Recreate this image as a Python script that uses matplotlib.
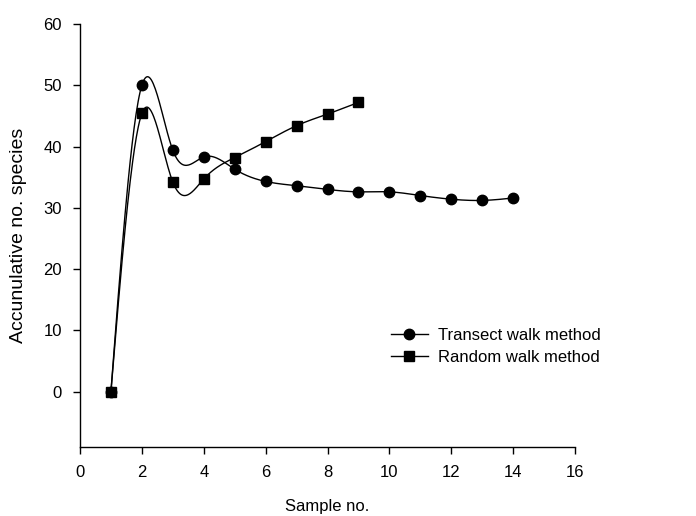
import numpy as np
import matplotlib
matplotlib.use("Agg")
import matplotlib.pyplot as plt

plt.rcParams['font.family'] = ['Liberation Sans', 'DejaVu Sans']

transect_x = [1, 2, 3, 4, 5, 6, 7, 8, 9, 10, 11, 12, 13, 14]
transect_y = [0, 50.0, 39.4, 38.3, 36.3, 34.3, 33.6, 33.0, 32.6, 32.6, 32.0, 31.4, 31.2, 31.6]
random_x = [1, 2, 3, 4, 5, 6, 7, 8, 9]
random_y = [0, 45.4, 34.2, 34.7, 38.2, 40.8, 43.4, 45.3, 47.2]

x_ticks = [0, 2, 4, 6, 8, 10, 12, 14, 16]
y_ticks = [0, 10, 20, 30, 40, 50, 60]


def natural_spline(x, y, n=400):
    x = np.asarray(x, float)
    y = np.asarray(y, float)
    m = len(x)
    h = np.diff(x)
    A = np.zeros((m, m))
    b = np.zeros(m)
    A[0, 0] = 1
    A[-1, -1] = 1
    for i in range(1, m - 1):
        A[i, i - 1] = h[i - 1]
        A[i, i] = 2 * (h[i - 1] + h[i])
        A[i, i + 1] = h[i]
        b[i] = 6 * ((y[i + 1] - y[i]) / h[i] - (y[i] - y[i - 1]) / h[i - 1])
    M = np.linalg.solve(A, b)
    xs = np.linspace(x[0], x[-1], n)
    idx = np.clip(np.searchsorted(x, xs) - 1, 0, m - 2)
    x0, x1 = x[idx], x[idx + 1]
    hh = x1 - x0
    t0 = x1 - xs
    t1 = xs - x0
    ys = (M[idx] * t0 ** 3 / (6 * hh) + M[idx + 1] * t1 ** 3 / (6 * hh)
          + (y[idx] / hh - M[idx] * hh / 6) * t0
          + (y[idx + 1] / hh - M[idx + 1] * hh / 6) * t1)
    return xs, ys


fig = plt.figure(figsize=(6.96, 5.16), dpi=100)
ax = fig.add_axes([80 / 696, 1 - 446.7 / 516, 495 / 696, (446.7 - 24) / 516])

tx, ty = natural_spline(transect_x, transect_y)
rx, ry = natural_spline(random_x, random_y)
ax.plot(tx, ty, color='black', lw=1.0)
ax.plot(rx, ry, color='black', lw=1.0)
ax.plot(transect_x, transect_y, 'o', color='black', ms=7.5, zorder=3)
ax.plot(random_x, random_y, 's', color='black', ms=6.8, zorder=3)

# legend proxies
h1, = ax.plot([], [], '-o', color='black', lw=1.0, ms=7.5)
h2, = ax.plot([], [], '-s', color='black', lw=1.0, ms=6.8)
ax.legend([h1, h2], ['Transect walk method', 'Random walk method'],
          loc='upper left', bbox_to_anchor=(0.628, 0.281), frameon=False,
          fontsize=12, handlelength=2.2, handletextpad=0.6, labelspacing=0.42,
          borderaxespad=0, borderpad=0)

ax.set_xlim(0, 16)
ax.set_ylim(-9, 60)
ax.set_xticks(x_ticks)
ax.set_yticks(y_ticks)
ax.spines['top'].set_visible(False)
ax.spines['right'].set_visible(False)
for s in ['left', 'bottom']:
    ax.spines[s].set_linewidth(1.0)
ax.tick_params(direction='out', length=5, width=1.0, labelsize=12, pad=8)
ax.set_xlabel('Sample no.', fontsize=12, labelpad=14)
ax.set_ylabel('Accunulative no. species', fontsize=14, labelpad=12)

fig.savefig('out.png', dpi=100)
